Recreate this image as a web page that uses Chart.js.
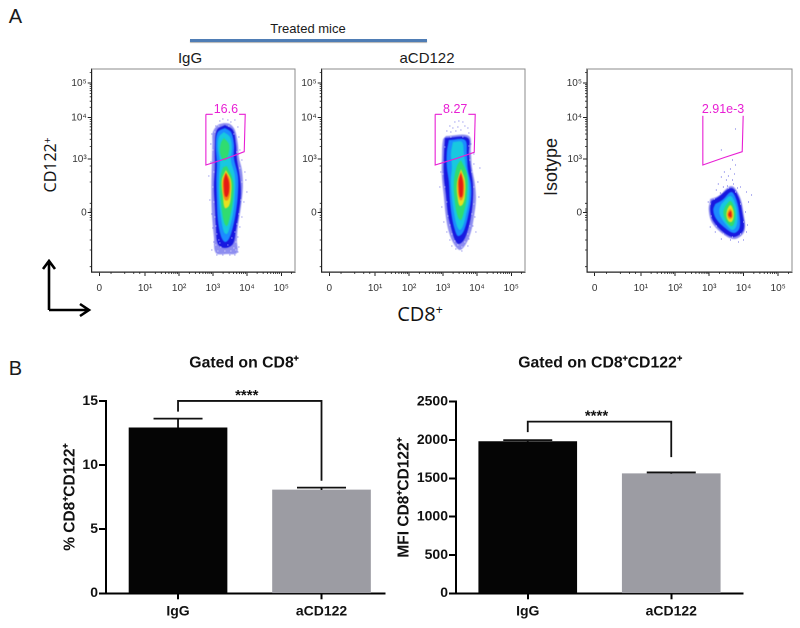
<!DOCTYPE html>
<html><head><meta charset="utf-8">
<script src="https://cdn.jsdelivr.net/npm/chart.js@4"></script>
<style>
html,body{margin:0;padding:0;background:#fff;width:800px;height:628px;overflow:hidden}
canvas{position:absolute}
.t{position:absolute;white-space:nowrap;transform:translate(-50%,-50%);color:#1a1a1a;font-family:"Liberation Sans",Arial,sans-serif}
.r{transform:translate(-50%,-50%) rotate(-90deg)}
.o{font-family:"Open Sans",sans-serif;color:#111}
sup{font-size:.62em;line-height:0;vertical-align:.55em}
svg{position:absolute;left:0;top:0}
</style></head><body>
<div class="t" style="left:15.5px;top:16px;font-size:20px">A</div>
<div class="t" style="left:15.5px;top:368px;font-size:20px">B</div>
<div class="t" style="left:308px;top:28px;font-size:13px">Treated mice</div>
<div style="position:absolute;left:190px;top:39px;width:237px;height:3px;background:#4f7db5;box-shadow:0 1px 1px #b5b5b5"></div>
<div class="t" style="left:190px;top:57px;font-size:15px">IgG</div>
<div class="t" style="left:427px;top:57px;font-size:15px">aCD122</div>
<div class="t o" style="left:420px;top:313px;font-size:20px">CD8<sup>+</sup></div>
<div class="t o r" style="left:50px;top:165px;font-size:16px">CD122<sup>+</sup></div>
<div class="t r" style="left:551px;top:167px;font-size:18px">Isotype</div>
<svg width="800" height="628"><path d="M49 310V262M43 269L49 261L55 269M49 310H88M80 304L89 310L80 316" fill="none" stroke="#000" stroke-width="2.6"/></svg>

<canvas id="flowIgG" style="left:40px;top:60px"></canvas>
<canvas id="flowAnti" style="left:270px;top:60px"></canvas>
<canvas id="flowIso" style="left:530px;top:60px"></canvas>
<canvas id="barPct" style="left:50px;top:350px"></canvas>
<canvas id="barMfi" style="left:392px;top:350px"></canvas>

<script>
// Flow axes (display channels 0-203)
const flowXTicks = [7.6,53.3,87.3,121,155,189.3];
const flowXLabels = ["0","10¹","10²","10³","10⁴","10⁵"];
const flowYTicks = [59.3,113,154.3,189];
const flowYLabels = ["0","10³","10⁴","10⁵"];
const flowXMinor = [19.3,33,42,48,63.5,69.5,73.8,77.1,79.8,82,84,85.7,97.5,103.5,107.8,111.1,113.8,116,118,119.7,131.2,137.2,141.5,144.8,147.5,149.7,151.7,153.4,165.2,171.2,175.5,178.8,181.5,183.7,185.7,187.4,199.5];
const flowYMinor = [5.3,22,32,42,52,54.5,56.7,61,63,68.7,90,100,106,125.4,132.7,138,142,145.2,148,150.4,152.4,164.7,170.8,175.2,178.6,181.3,183.6,185.6,187.3,199.4];

const levelColors = ["rgba(30,30,225,.5)","#1818e0","#1c8cff","#18c8e0","#30dc70","#e8e020","#f28a18","#e41c14"];

// IgG panel density contours
const igGFringe = [[132,149],[138,148],[143,142],[146,128],[147,115],[150,102],[151,85],[149,65],[146,45],[145,32],[145,19],[135,18],[124,19],[122,35],[120,59],[119.5,85],[120,109],[120.5,129],[121,140],[126,147],[132,149]];
const igGBlue = [[133,147],[141,142],[144,128],[145,113],[148,95],[149,78],[147,60],[144,42],[141,28],[133,24],[126,28],[124,45],[123,65],[122,85],[123,105],[123,125],[125,142],[133,147]];
const igGMid = [[133,144],[139,140],[142,128],[142,114],[146,96],[146,78],[144,60],[141,45],[137,33],[133,30],[129,36],[126,52],[125,72],[124.5,92],[125,108],[124,128],[126,140],[133,144]];
const igGCyan = [[132,140],[138,135],[140,124],[139,112],[143,96],[143,76],[141,58],[138,45],[135,38],[132,40],[129,55],[127,75],[127,95],[128,110],[126,124],[127,135],[132,140]];
const igGGreenTop = [[132,134],[137,128],[137,120],[134,112],[131,112],[128,120],[129,129],[132,134]];
const igGGreen = [[135,106],[141,92],[141,72],[138,55],[135,46],[132,50],[129,70],[128,90],[131,104],[135,106]];
const igGYellow = [[134,102],[139,92],[139,76],[137,66],[133,64],[131,76],[130,92],[134,102]];
const igGOrange = [[134,100],[138,92],[138,78],[136,72],[133,72],[131,80],[131,92],[134,100]];
const igGRed = [[134,99],[137,90],[137,80],[135,75],[133,76],[132,84],[132,92],[134,99]];
const igGSpeckle = [[128,151],[131,153],[136,152],[139,150],[143,152],[146,145],[124,146],[147,135],[120,138],[119,128],[148,122],[150,112],[119,110],[153,100],[154,92],[117,96],[155,80],[152,70],[118,72],[120,58],[150,55],[148,45],[121,44],[146,35],[122,30],[147,25],[120,22],[146,20],[125,17],[131,17],[138,17],[143,17]];
const igGGrain = [[123,140],[127,146],[137,146],[142,138],[145,120],[121,122],[122,100],[148,104],[150,90],[121,85],[149,72],[122,70],[147,58],[123,55],[145,48],[124,46],[143,40],[125,38],[127,32],[140,34],[144,30],[124,27],[129,25],[136,27],[142,24],[126,21],[133,21],[139,21],[144,22],[128,29]];
const gateIgG = [[114,157.7],[153.3,157.7],[152.3,120.3],[135,113.7],[114,107],[114,157.7]];

// aCD122 panel density contours
const antiFringe = [[124,136],[147,136],[149,120],[150,105],[153,88],[154,72],[152,55],[149,40],[144,28],[138,22],[132,28],[127,40],[124,55],[122,75],[120,95],[120,115],[121,132],[124,136]];
const antiBlue = [[123,134],[146,134],[147,118],[149,102],[151,88],[151,72],[149,55],[146,42],[142,32],[137,28],[133,32],[129,45],[126,58],[124,78],[122,95],[122,115],[123,134]];
const antiMid = [[127,132],[143,132],[145,118],[146,102],[149,88],[149,72],[146,55],[143,44],[140,38],[136,36],[133,42],[130,55],[128,72],[127,90],[125,105],[125,120],[127,132]];
const antiCyan = [[131,130],[140,130],[142,118],[144,105],[147,90],[147,72],[144,57],[141,46],[138,42],[135,46],[132,60],[130,75],[129,92],[130,105],[129,118],[131,130]];
const antiGreen = [[139,112],[145,98],[145,76],[142,60],[139,52],[136,55],[133,70],[132,90],[135,106],[139,112]];
const antiYellow = [[139,103],[143,92],[143,76],[141,68],[138,66],[136,72],[135,88],[139,103]];
const antiOrange = [[139,101],[142,90],[142,78],[140,72],[138,72],[136,80],[136,92],[139,101]];
const antiRed = [[139,99],[141,90],[141,80],[140,75],[138,75],[137,84],[137,92],[139,99]];
const antiSpeckle = [[133,150],[137,151],[141,150],[128,146],[131,144],[136,145],[143,146],[146,144],[125,141],[129,140],[134,141],[139,142],[147,139],[149,128],[152,118],[152,108],[158,104],[156,90],[157,75],[153,55],[151,46],[154,40],[147,33],[119,100],[118,85],[120,65],[122,50],[125,40],[128,32],[130,26],[134,23],[140,21],[146,26]];
const antiGrain = [[123,125],[122,110],[121,98],[148,112],[150,100],[152,85],[123,85],[125,70],[152,68],[126,56],[150,58],[128,47],[148,46],[130,38],[146,38],[133,31],[143,30],[136,27],[140,25],[147,126],[129,135],[141,135]];
const gateAnti = [[113.3,157.7],[153.3,157.7],[152.3,119.7],[135,113.7],[113.3,107],[113.3,157.7]];

// Isotype panel density contours
const isoFringe = [[122,73],[130,76],[143,86],[151,76],[155,59],[156,41],[147,33],[136,37],[124,49],[120.5,62],[122,73]];
const isoBlue = [[123,71],[130,75],[143,84],[150,75],[154,58],[155,42],[146,35],[136,39],[125,51],[122,62],[123,71]];
const isoMid = [[127,68],[134,72],[143,80],[148,72],[151,57],[151,44],[146,39],[138,43],[128,53],[125,62],[127,68]];
const isoCyan = [[133,68],[142,76],[147,68],[149,56],[148,46],[144,42],[138,47],[132,56],[131,62],[133,68]];
const isoGreen = [[137,66],[142,71],[146,64],[147,55],[145,47],[142,46],[137,52],[135,60],[137,66]];
const isoYellow = [[139,63],[142,67],[145,61],[145,54],[143,50],[140,51],[138,57],[139,63]];
const isoOrange = [[140,61],[142,63],[144,59],[144,55],[142,53],[140,54],[139,58],[140,61]];
const isoRed = [[141,60],[142.5,61],[143,58],[143,55],[141.5,55],[140,57],[141,60]];
const isoSpeckle = [[130,88],[133,95],[136,100],[138,92],[140,96],[142,103],[144,92],[146,98],[147,107],[135,85],[139,86],[145,88],[128,82],[132,79],[149,84],[152,85],[158,80],[160,70],[157,60],[163,77],[159,47],[158,40],[155,32],[150,30],[142,32],[133,33],[127,40],[122,45],[120,70],[147,143],[133,122],[144,112]];
const isoGrain = [[122,68],[126,73],[134,80],[140,84],[147,80],[152,68],[155,50],[152,38],[144,35],[135,38],[128,46],[123,56]];
const gateIso = [[114.7,157.7],[154.7,157.7],[153.7,120.3],[136,114.5],[114.7,107],[114.7,157.7]];

// Bar charts
const categories = ["IgG","aCD122"];
const pctValues = [12.9,8.06];
const pctErrors = [0.72,0.18];
const mfiValues = [1980,1560];
const mfiErrors = [18,17];
const pctBracket = {top:15,left:14.17,right:8.78};
const mfiBracket = {top:2240,left:2102,right:1777};
const barColors = ["#050505","#9c9ca3"];

const SANS = '"Liberation Sans",Arial,sans-serif';

function frameSize(id,w,h){const c=document.getElementById(id);c.style.width=w+'px';c.style.height=h+'px';return c;}

function flowChart(id,cfg){
  const c=frameSize(id,cfg.w,240);
  const last=cfg.layers.length-1;
  const layers=cfg.layers.map((pts,i)=>({
    type:'scatter',data:pts,showLine:true,tension:0.35,fill:'shape',
    backgroundColor:levelColors[cfg.levelOf[i]],borderWidth:0,pointRadius:0,
    order:20-i,isTopLayer:i===last
  }));
  const datasets=[
    {type:'scatter',data:cfg.gate,showLine:true,tension:0,fill:false,borderColor:'#e81fd4',borderWidth:1.1,pointRadius:0,order:0},
    {type:'scatter',data:cfg.grain,showLine:false,pointStyle:'rect',pointRadius:.7,backgroundColor:'rgba(255,255,255,.75)',borderWidth:0,order:1},
    {type:'scatter',data:cfg.speckle,showLine:false,pointStyle:'rect',pointRadius:.6,backgroundColor:'#2020d8',borderWidth:0,order:2},
    ...layers
  ];
  const plugin={id:'flowDecor',
   beforeDatasetsDraw(ch){ch.ctx.filter='blur(1.2px)';},
   afterDatasetDraw(ch,args){if(ch.data.datasets[args.index].isTopLayer)ch.ctx.filter='none';},
   afterDatasetsDraw(ch){
    const {ctx,chartArea:a,scales:{x,y}}=ch;
    ctx.filter='none';
    ctx.save();
    ctx.strokeStyle='#8a8a8a';ctx.lineWidth=1;
    ctx.beginPath();ctx.moveTo(a.left,a.top);ctx.lineTo(a.right,a.top);ctx.lineTo(a.right,a.bottom);ctx.stroke();
    ctx.strokeStyle='#222';ctx.lineWidth=.8;ctx.beginPath();
    flowXMinor.forEach(v=>{const p=x.getPixelForValue(v);ctx.moveTo(p,a.bottom);ctx.lineTo(p,a.bottom+2);});
    flowYMinor.forEach(v=>{const p=y.getPixelForValue(v);ctx.moveTo(a.left,p);ctx.lineTo(a.left-2,p);});
    ctx.stroke();
    ctx.font='12.5px '+SANS;ctx.textAlign='center';ctx.textBaseline='middle';
    const tx=x.getPixelForValue(cfg.labelAt[0]),ty=y.getPixelForValue(cfg.labelAt[1]);
    const w=ctx.measureText(cfg.label).width;
    ctx.fillStyle='#fff';ctx.fillRect(tx-w/2-1,ty-6.5,w+2,13);
    ctx.fillStyle='#e81fd4';ctx.fillText(cfg.label,tx,ty);
    ctx.restore();
  }};
  new Chart(c,{data:{datasets},plugins:[plugin],options:{
    responsive:false,animation:false,events:[],devicePixelRatio:2,
    layout:{autoPadding:false,padding:{top:9,right:cfg.right,left:0,bottom:0}},
    plugins:{legend:{display:false},tooltip:{enabled:false}},
    scales:{
      x:{type:'linear',min:0,max:203,
        afterBuildTicks(s){s.ticks=flowXTicks.map(v=>({value:v}));},
        afterFit(s){s.height=28;},
        border:{color:'#222',width:1.2},
        grid:{drawOnChartArea:false,tickLength:4,tickColor:'#222',tickWidth:1},
        ticks:{autoSkip:false,maxRotation:0,padding:6,color:'#333',font:{size:10,family:SANS},callback:(v,i)=>flowXLabels[i]}},
      y:{type:'linear',min:0,max:203,
        afterBuildTicks(s){s.ticks=flowYTicks.map(v=>({value:v}));},
        afterFit(s){s.width=cfg.left;},
        border:{color:'#222',width:1.2},
        grid:{drawOnChartArea:false,tickLength:4,tickColor:'#222',tickWidth:1},
        ticks:{autoSkip:false,padding:1,color:'#333',font:{size:10,family:SANS},callback:(v,i)=>flowYLabels[i]}}
    }}});
}

flowChart('flowIgG',{w:260,left:51.7,right:5,
  layers:[igGFringe,igGBlue,igGMid,igGCyan,igGGreenTop,igGGreen,igGYellow,igGOrange,igGRed],levelOf:[0,1,2,3,4,4,5,6,7],
  speckle:igGSpeckle,grain:igGGrain,gate:gateIgG,label:'16.6',labelAt:[134,162.7]});
flowChart('flowAnti',{w:260,left:51.7,right:5,
  layers:[antiFringe,antiBlue,antiMid,antiCyan,antiGreen,antiYellow,antiOrange,antiRed],levelOf:[0,1,2,3,4,5,6,7],
  speckle:antiSpeckle,grain:antiGrain,gate:gateAnti,label:'8.27',labelAt:[133.3,162.7]});
flowChart('flowIso',{w:268,left:57,right:6,
  layers:[isoFringe,isoBlue,isoMid,isoCyan,isoGreen,isoYellow,isoOrange,isoRed],levelOf:[0,1,2,3,4,5,6,7],
  speckle:isoSpeckle,grain:isoGrain,gate:gateIso,label:'2.91e-3',labelAt:[134.7,162.7]});

function barChart(id,cfg){
  const c=frameSize(id,cfg.w,278);
  const plugin={id:'barDecor',afterDatasetsDraw(ch){
    const {ctx,scales:{x,y}}=ch;
    ctx.save();ctx.strokeStyle='#111';ctx.fillStyle='#111';
    ctx.lineWidth=1.8;ctx.beginPath();
    cfg.values.forEach((v,i)=>{
      const px=x.getPixelForValue(i),t=y.getPixelForValue(v+cfg.errors[i]);
      ctx.moveTo(px,y.getPixelForValue(v));ctx.lineTo(px,t);
      ctx.moveTo(px-24.5,t);ctx.lineTo(px+24.5,t);
    });
    const b=cfg.bracket,l=x.getPixelForValue(0),r=x.getPixelForValue(1);
    ctx.moveTo(l,y.getPixelForValue(b.left));ctx.lineTo(l,y.getPixelForValue(b.top));
    ctx.lineTo(r,y.getPixelForValue(b.top));ctx.lineTo(r,y.getPixelForValue(b.right));
    ctx.stroke();
    ctx.font='bold 15px '+SANS;ctx.textAlign='center';ctx.textBaseline='middle';
    ctx.fillText('****',(l+r)/2-3,y.getPixelForValue(b.top)-5);
    ctx.restore();
  }};
  new Chart(c,{type:'bar',plugins:[plugin],data:{datasets:[{
    data:cfg.values.map((v,i)=>({x:i,y:v})),backgroundColor:barColors,borderWidth:0,barThickness:98
  }]},options:{
    responsive:false,animation:false,events:[],devicePixelRatio:2,
    layout:{autoPadding:false,padding:0},
    plugins:{legend:{display:false},tooltip:{enabled:false},
      title:{display:true,text:cfg.title,color:'#111',font:{size:15.8,weight:'bold',family:SANS,lineHeight:1.2},padding:{top:3.5,bottom:cfg.titleGap}}},
    scales:{
      x:{type:'linear',offset:false,min:cfg.xMin,max:cfg.xMax,
        afterBuildTicks(s){s.ticks=categories.map((_,i)=>({value:i}));},
        afterFit(s){s.height=34.7;},
        border:{color:'#000',width:2},
        grid:{offset:false,drawOnChartArea:false,tickLength:6,tickColor:'#000',tickWidth:2},
        ticks:{autoSkip:false,maxRotation:0,padding:4,color:'#111',font:{size:14,weight:'bold',family:SANS},callback:(v,i)=>categories[i]}},
      y:{min:0,max:cfg.max,
        afterFit(s){s.width=cfg.left;},
        border:{color:'#000',width:2},
        grid:{drawOnChartArea:false,tickLength:7,tickColor:'#000',tickWidth:2},
        ticks:{stepSize:cfg.step,padding:1,color:'#111',font:{size:14,weight:'bold',family:SANS},callback:v=>String(v)},
        title:{display:true,text:cfg.yTitle,color:'#111',font:{size:15.5,weight:'bold',family:SANS,lineHeight:1.2},padding:{top:cfg.yPad,bottom:0}}},
      rightGap:{position:'right',afterFit(s){s.width=cfg.right;},ticks:{display:false},grid:{display:false},border:{display:false}}
    }}});
}

barChart('barPct',{w:388,left:56,right:53,max:15,step:5,values:pctValues,errors:pctErrors,bracket:pctBracket,
  title:'Gated on CD8⁺',titleGap:28.5,yTitle:'% CD8⁺CD122⁺',yPad:10.7,xMin:-0.502,xMax:1.4425});
barChart('barMfi',{w:416,left:64,right:65,max:2500,step:500,values:mfiValues,errors:mfiErrors,bracket:mfiBracket,
  title:'Gated on CD8⁺CD122⁺',titleGap:29.2,yTitle:'MFI CD8⁺CD122⁺',yPad:3,xMin:-0.5,xMax:1.5});
</script>
</body></html>
